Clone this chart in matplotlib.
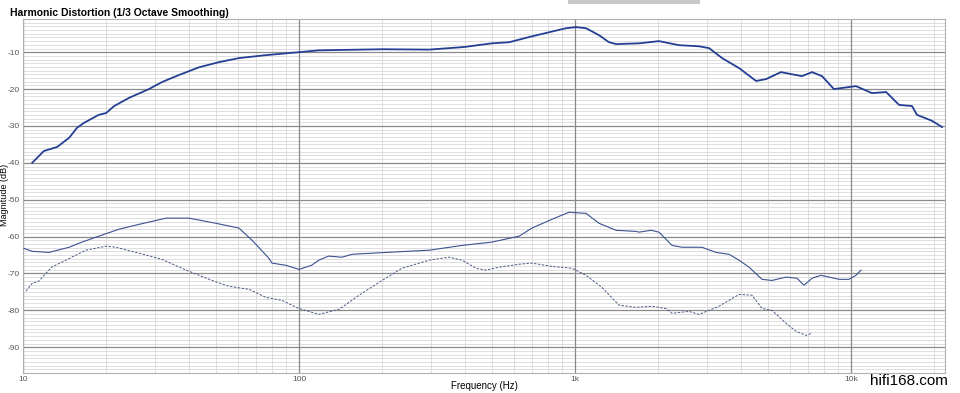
import numpy as np
import matplotlib.pyplot as plt
from matplotlib.ticker import FixedLocator, NullFormatter, MultipleLocator
from matplotlib.patches import Rectangle

plt.rcParams['font.family'] = ['Liberation Sans', 'DejaVu Sans']
plt.rcParams['axes.unicode_minus'] = False

# ---- data (Hz, dB) ----
fund_f = [10.8, 11.9, 13.3, 14.7, 15.7, 16.6, 18.8, 20.0, 21.4, 24.2, 28.6, 31.9, 36.7,
          43.4, 51.3, 60.6, 75.9, 100, 118, 200, 296, 396, 500, 577, 698, 805, 928,
          1009, 1096, 1222, 1328, 1409, 1706, 2015, 2381, 2813, 3060, 3410, 3927,
          4528, 4921, 5573, 6637, 7223, 7853, 8669, 10420, 11910, 13400, 14930,
          16630, 17340, 19640, 21370]
fund_db = [-40.0, -36.8, -35.7, -33.2, -30.5, -29.2, -27.0, -26.5, -24.6, -22.4, -20.0,
           -18.1, -16.2, -14.1, -12.7, -11.6, -10.8, -10.0, -9.5, -9.2, -9.3, -8.6,
           -7.6, -7.3, -5.7, -4.6, -3.5, -3.2, -3.5, -5.4, -7.3, -7.8, -7.6, -7.0,
           -8.1, -8.4, -8.9, -11.6, -14.3, -17.8, -17.3, -15.4, -16.5, -15.4, -16.5,
           -20.0, -19.2, -21.1, -20.8, -24.3, -24.6, -27.0, -28.6, -30.3]

h2_f = [10.08, 10.8, 12.4, 14.7, 15.95, 18.8, 22.3, 26.3, 33.0, 39.9, 50.0, 60.6, 67.6,
        77.8, 79.8, 89.7, 100, 111, 118, 128, 143, 156, 207, 296, 390, 500, 627, 698,
        826, 951, 1096, 1222, 1409, 1663, 1706, 1885, 2015, 2246, 2442, 2884, 3243,
        3613, 3927, 4270, 4760, 5172, 5810, 6372, 6757, 7223, 7784, 9053, 9835,
        10420, 10870]
h2_db = [-63.2, -64.0, -64.3, -62.9, -61.8, -59.9, -58.0, -56.7, -55.0, -55.0, -56.4,
         -57.7, -61.0, -65.9, -67.2, -67.8, -68.9, -67.8, -66.4, -65.3, -65.6, -64.8,
         -64.3, -63.7, -62.4, -61.5, -59.9, -57.7, -55.3, -53.4, -53.7, -56.4, -58.3,
         -58.6, -58.8, -58.3, -58.8, -62.4, -62.9, -62.9, -64.3, -64.8, -66.4, -68.3,
         -71.6, -71.9, -71.0, -71.3, -73.2, -71.3, -70.5, -71.6, -71.6, -70.5, -69.1]

h3_f = [10.25, 10.8, 11.4, 12.7, 14.3, 16.9, 20.0, 21.7, 26.3, 31.9, 39.0, 48.4, 55.7,
        65.9, 75.9, 86.7, 100, 118, 140, 165, 200, 236, 296, 349, 390, 438, 476, 531,
        627, 698, 826, 975, 1096, 1253, 1443, 1663, 1901, 2137, 2246, 2588, 2813,
        3325, 3613, 3927, 4377, 4760, 5172, 5810, 6324, 6867, 7223]
h3_db = [-74.8, -72.7, -72.1, -68.3, -66.4, -63.7, -62.6, -62.9, -64.5, -66.2, -69.1,
         -71.9, -73.5, -74.3, -76.5, -77.3, -79.5, -81.1, -79.7, -75.9, -71.9, -68.6,
         -66.4, -65.6, -66.4, -68.6, -69.1, -68.3, -67.5, -67.2, -68.1, -68.6, -70.5,
         -73.8, -78.6, -79.2, -78.9, -79.5, -80.8, -80.3, -81.1, -78.9, -77.3, -75.7,
         -75.9, -79.5, -80.0, -83.5, -85.7, -86.8, -86.2]

x_ticks = [10, 100, 1000, 10000]
x_labels = ['10', '100', '1k', '10k']
y_ticks = [-90, -80, -70, -60, -50, -40, -30, -20, -10]

fig = plt.figure(figsize=(9.6, 3.93), dpi=100)
ax = fig.add_axes([23 / 960, 1 - 373 / 393, (945 - 23) / 960, (373 - 19) / 393])

ax.set_xscale('log')
ax.set_xlim(10, 21900)
ax.set_ylim(-97, -1)

# grid: light minor lines, darker decades / every 10 dB
ax.xaxis.set_major_locator(FixedLocator(x_ticks))
ax.xaxis.set_minor_locator(FixedLocator([m * 10 ** d for d in range(1, 5) for m in range(2, 10)]))
ax.xaxis.set_minor_formatter(NullFormatter())
ax.set_xticklabels(x_labels)
ax.yaxis.set_major_locator(FixedLocator(y_ticks))
ax.yaxis.set_minor_locator(MultipleLocator(1))
ax.grid(True, which='minor', color='#d9d9d9', lw=0.6, zorder=0)
ax.grid(False, which='major')
for xv in x_ticks:
    ax.axvline(xv, color='#8a8a8a', lw=0.9, zorder=0.8)
for yv in y_ticks:
    ax.axhline(yv, color='#8a8a8a', lw=0.9, zorder=0.8)
ax.set_axisbelow(True)

ax.plot(fund_f, fund_db, color='#243f93', lw=1.3, zorder=3)
ax.plot(h2_f, h2_db, color='#3b5290', lw=0.8, zorder=3)
ax.plot(h3_f, h3_db, color='#4a5a88', lw=0.7, ls=(0, (2.5, 1.5)), zorder=3)

ax.tick_params(which='both', length=0, labelsize=6, labelcolor='#555555', pad=2)
for s in ax.spines.values():
    s.set_color('#b0b0b0')
    s.set_linewidth(0.8)

fig.text(484 / 960, 1 - 386 / 393, 'Frequency (Hz)', fontsize=7, ha='center', va='center')
fig.text(5 / 960, 1 - 195 / 393, 'Magnitude (dB)', fontsize=6.5, ha='center', va='center',
         rotation=90)
fig.text(10 / 960, 1 - 13 / 393, 'Harmonic Distortion (1/3 Octave Smoothing)',
         fontsize=7.5, fontweight='bold', va='center', ha='left')
fig.text(948 / 960, 1 - 381 / 393, 'hifi168.com', fontsize=11, va='center', ha='right')

# grey bar at the very top of the screenshot
fig.patches.append(Rectangle((568 / 960, 1 - 4 / 393), 132 / 960, 4 / 393,
                             transform=fig.transFigure, color='#c8c8c8', lw=0))

fig.savefig('out.png', dpi=100)
